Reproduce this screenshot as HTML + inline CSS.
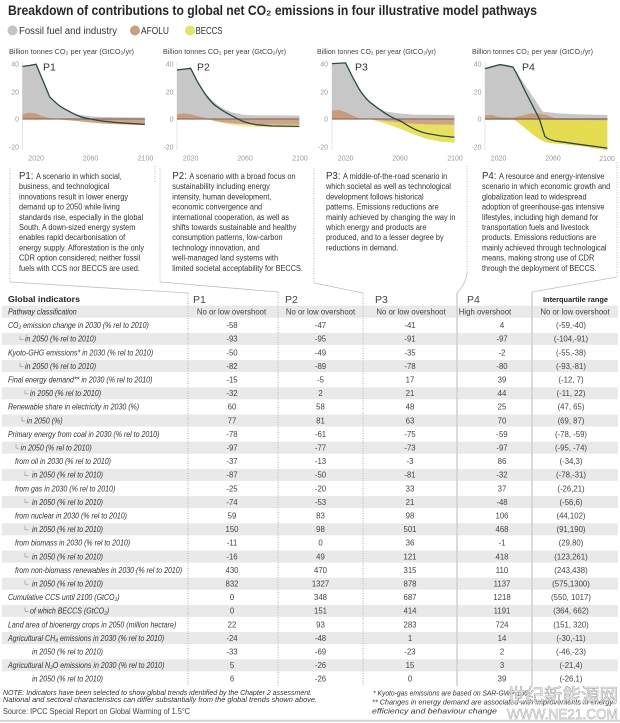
<!DOCTYPE html>
<html><head><meta charset="utf-8">
<style>
html,body{margin:0;padding:0;background:#fff;}
svg{display:block;font-family:"Liberation Sans","DejaVu Sans",sans-serif;}
</style></head><body>
<svg width="620" height="723" viewBox="0 0 620 723" xmlns="http://www.w3.org/2000/svg">
<rect width="620" height="723" fill="#fff"/>

<!-- Title -->
<text x="8" y="15" font-size="14" font-weight="bold" fill="#262626" textLength="529" lengthAdjust="spacingAndGlyphs">Breakdown of contributions to global net CO₂ emissions in four illustrative model pathways</text>

<!-- Legend -->
<circle cx="12.5" cy="30.5" r="5" fill="#c4c4c4"/>
<text x="19" y="34" font-size="10" fill="#333" textLength="98" lengthAdjust="spacingAndGlyphs">Fossil fuel and industry</text>
<circle cx="135" cy="30.5" r="5" fill="#cc9e80"/>
<text x="141" y="34" font-size="10" fill="#333" textLength="28" lengthAdjust="spacingAndGlyphs">AFOLU</text>
<circle cx="190" cy="30.5" r="5" fill="#e4e36e"/>
<text x="195.5" y="34" font-size="10" fill="#333" textLength="27" lengthAdjust="spacingAndGlyphs">BECCS</text>

<!-- Axis titles -->
<g font-size="7.5" fill="#444">
<text x="9" y="54" textLength="125" lengthAdjust="spacingAndGlyphs">Billion tonnes CO₂ per year (GtCO₂/yr)</text>
<text x="163" y="54" textLength="123" lengthAdjust="spacingAndGlyphs">Billion tonnes CO₂ per year (GtCO₂/yr)</text>
<text x="317" y="54" textLength="119" lengthAdjust="spacingAndGlyphs">Billion tonnes CO₂ per year (GtCO₂/yr)</text>
<text x="472" y="54" textLength="121" lengthAdjust="spacingAndGlyphs">Billion tonnes CO₂ per year (GtCO₂/yr)</text>
</g>

<!-- Left axis lines -->
<g stroke="#e0e0e0" stroke-width="0.8">
<line x1="22.5" y1="62" x2="22.5" y2="150"/>
<line x1="177" y1="62" x2="177" y2="150"/>
<line x1="332" y1="62" x2="332" y2="150"/>
<line x1="485" y1="62" x2="485" y2="150"/>
</g>

<!-- P1 chart -->
<g transform="translate(22.5,119) scale(1.36,-1.385)">
<path fill="#c7c7c7" d="M0,0 L0,38 L5,38.6 L10,39.5 L20,16 C24,12 27,9.3 30,7.8 C34,5.6 37,4.1 40,3.3 L50,1.9 L60,1.4 L90,1.1 L90,0 Z"/>
<path fill="#c99a7c" d="M0,0 L0,3.5 L5,4.5 L10,4 L15,2 L20,0.6 L30,0 Z"/>
<path fill="#cfa386" d="M20,0 L30,-0.5 L40,-1.5 L50,-2.5 L60,-3.3 L70,-3.8 L90,-4.3 L90,0 Z"/>
</g>
<line x1="22.5" y1="119" x2="144.9" y2="119" stroke="#8a7162" stroke-width="1.3"/>
<g transform="translate(22.5,119) scale(1.36,-1.385)">
<path fill="none" stroke="#2b4844" stroke-width="1.3" vector-effect="non-scaling-stroke" d="M0,38 L5,38.6 L10,39.5 L20,16 C24,12 27,9.3 30,7.8 C34,5.6 37,4 40,2.7 C44,1 47,0.2 50,0 C54,-0.8 57,-1.3 60,-1.6 L70,-2.6 L80,-3.3 L90,-3.9"/>
</g>

<!-- P2 chart -->
<g transform="translate(177,119) scale(1.36,-1.385)">
<path fill="#c7c7c7" d="M0,0 L0,35.4 L10,36.6 L15,27.5 L20,19.5 C24,15 28,11.5 30,10 C33,8 37,6 40,5 C44,4 47,3.2 50,3 L60,2.6 L90,2.5 L90,0 Z"/>
<path fill="#c99a7c" d="M0,0 L0,3.5 L5,4 L10,3.5 L15,2 L20,1 L25,0 Z"/>
<path fill="#eeea8a" opacity="0.85" d="M25,-0.8 L30,-2.3 L40,-4.3 L50,-5.5 L60,-6 L90,-6.2 L90,-4.2 L60,-4 L50,-3.8 L40,-3.2 L35,-2.6 L30,-1.8 Z"/>
<path fill="#cfa386" d="M20,0 L25,-0.8 L30,-1.8 L35,-2.6 L40,-3.2 L50,-3.8 L60,-4 L90,-4.2 L90,0 Z"/>
</g>
<line x1="177" y1="119" x2="299.4" y2="119" stroke="#8a7162" stroke-width="1.3"/>
<g transform="translate(177,119) scale(1.36,-1.385)">
<path fill="none" stroke="#2b4844" stroke-width="1.3" vector-effect="non-scaling-stroke" d="M0,35.4 L10,36.6 L15,27 L20,19 C24,13.5 27,10 30,8.5 C34,5.5 37,4 40,2.5 C43,1 46,-1 50,-2.2 C53,-3.2 56,-4 60,-4.3 L70,-5 L90,-5.3"/>
</g>

<!-- P3 chart -->
<g transform="translate(332,119) scale(1.36,-1.385)">
<path fill="#c7c7c7" d="M0,0 L0,40 L10,40.5 L15,30.5 L20,21.5 C24,16 27,13 30,11.3 C34,8 37,6.3 40,5.3 L50,4 L60,3.2 L90,2.9 L90,0 Z"/>
<path fill="#c99a7c" d="M0,0 L0,6 L5,6.5 L10,5 L15,2.5 L20,0.5 L25,0 Z"/>
<path fill="#e8e060" d="M30,-0.5 L40,-3.5 L50,-7 L60,-11 L70,-14.5 L80,-16.3 L90,-17.3 L90,-4.2 L70,-4 L60,-3.5 L50,-2.5 L40,-1.5 Z"/>
<path fill="#cfa386" d="M25,0 L30,-0.5 L40,-1.5 L50,-2.5 L60,-3.5 L70,-4 L90,-4.2 L90,0 Z"/>
</g>
<line x1="332" y1="119" x2="454.4" y2="119" stroke="#8a7162" stroke-width="1.3"/>
<g transform="translate(332,119) scale(1.36,-1.385)">
<path fill="none" stroke="#2b4844" stroke-width="1.3" vector-effect="non-scaling-stroke" d="M0,40 L10,40.5 L15,30.5 L20,21.5 C24,15.5 27,12.5 30,10.5 C34,7.5 37,5.5 40,3.5 C44,1.2 47,-0.4 50,-1.2 C53,-3 56,-5 60,-7 C63,-8.5 66,-9.6 70,-10.5 L80,-12.2 L90,-13.2"/>
</g>

<!-- P4 chart -->
<g transform="translate(485,119) scale(1.36,-1.385)">
<path fill="#c7c7c7" d="M0,0 L0,36.4 L11,39.3 L20.5,37.6 L42.5,5.3 L55,4 L70,3.3 L90,2.9 L90,0 Z"/>
<path fill="#c99a7c" d="M0,0 L0,2.5 L5,3 L10,1.5 L20,1 L28,2.5 L33,4 L40,4 L45,3 L50,1 L55,0 Z"/>
<path fill="#e6dc52" d="M20.5,0 L25,-3 L30,-7 L35,-11 L40,-14.5 L45,-17 L50,-17.5 L60,-18.5 L70,-19.5 L80,-21 L90,-22.5 L90,-1 L55,-0.8 L50,0 Z"/>
<path fill="#cfa386" d="M50,0 L55,-0.8 L90,-1 L90,0 Z"/>
</g>
<line x1="485" y1="119" x2="607.4" y2="119" stroke="#8a7162" stroke-width="1.6"/>
<g transform="translate(485,119) scale(1.36,-1.385)">
<path fill="none" stroke="#2b4844" stroke-width="1.3" vector-effect="non-scaling-stroke" d="M0,36.4 L11,39.3 L20.5,37.6 C24,32 27,25 30.4,18.4 L40,0 L44,-12.5 C46,-14.5 50,-15.8 55,-16.3 L67,-18 L90,-21"/>
</g>

<!-- Panel labels -->
<g font-size="10.5" fill="#333">
<text x="43" y="70.5">P1</text>
<text x="197" y="70.5">P2</text>
<text x="355" y="70.5">P3</text>
<text x="522" y="70.5">P4</text>
</g>

<!-- Tick labels -->
<g font-size="7" fill="#999" text-anchor="end">
<text x="19" y="66.5">40</text><text x="19" y="94.5">20</text><text x="19" y="121.5">0</text><text x="19" y="149.5">-20</text>
<text x="173.5" y="66.5">40</text><text x="173.5" y="94.5">20</text><text x="173.5" y="121.5">0</text><text x="173.5" y="149.5">-20</text>
<text x="328" y="66.5">40</text><text x="328" y="94.5">20</text><text x="328" y="121.5">0</text><text x="328" y="149.5">-20</text>
<text x="481.5" y="66.5">40</text><text x="481.5" y="94.5">20</text><text x="481.5" y="121.5">0</text><text x="481.5" y="149.5">-20</text>
</g>
<g font-size="7" fill="#999" text-anchor="middle">
<text x="36.1" y="160.5">2020</text><text x="90.5" y="160.5">2060</text><text x="145.5" y="160.5">2100</text>
<text x="190.6" y="160.5">2020</text><text x="245" y="160.5">2060</text><text x="300" y="160.5">2100</text>
<text x="345.6" y="160.5">2020</text><text x="400" y="160.5">2060</text><text x="455" y="160.5">2100</text>
<text x="498.6" y="160.5">2020</text><text x="553" y="160.5">2060</text><text x="607" y="161">2100</text>
</g>

<!-- Connector lines -->
<g fill="none" stroke="#aaa" stroke-width="0.8" stroke-dasharray="1,1.5">
<path d="M10,168 V282"/>
<path d="M160,168 V282"/>
<path d="M314,168 V283"/>
<path d="M467,166 V272"/>
<path d="M617,162 V277"/>
<path d="M155,166 V182"/>
<path d="M188,293 V686"/>
<path d="M278,292 V686"/>
<path d="M363,293 V686"/>
</g>
<g fill="none" stroke="#bdbdbd" stroke-width="0.8">
<path d="M10,282 L188,293"/>
<path d="M160,282 L278,292"/>
<path d="M314,283 L363,293"/>
<path d="M467,272 Q467,282 457,293"/>
<path d="M617,277 L532,292"/>
</g>

<!-- Scenario texts -->
<g transform="scale(0.92,1)" font-size="8" fill="#333">
<text x="20.65" y="179"><tspan font-size="10.5">P1:</tspan><tspan dx="1"> A scenario in which social,</tspan></text>
<text x="20.65" y="189.2">business, and technological</text>
<text x="20.65" y="199.4">innovations result in lower energy</text>
<text x="20.65" y="209.6">demand up to 2050 while living</text>
<text x="20.65" y="219.8">standards rise, especially in the global</text>
<text x="20.65" y="230">South. A down-sized energy system</text>
<text x="20.65" y="240.2">enables rapid decarbonisation of</text>
<text x="20.65" y="250.4">energy supply. Afforestation is the only</text>
<text x="20.65" y="260.6">CDR option considered; neither fossil</text>
<text x="20.65" y="270.8">fuels with CCS nor BECCS are used.</text>

<text x="187.3" y="179"><tspan font-size="10.5">P2:</tspan><tspan dx="1"> A scenario with a broad focus on</tspan></text>
<text x="187.3" y="189.2">sustainability including energy</text>
<text x="187.3" y="199.4">intensity, human development,</text>
<text x="187.3" y="209.6">economic convergence and</text>
<text x="187.3" y="219.8">international cooperation, as well as</text>
<text x="187.3" y="230">shifts towards sustainable and healthy</text>
<text x="187.3" y="240.2">consumption patterns, low-carbon</text>
<text x="187.3" y="250.4">technology innovation, and</text>
<text x="187.3" y="260.6">well-managed land systems with</text>
<text x="187.3" y="270.8">limited societal acceptability for BECCS.</text>

<text x="354.35" y="179"><tspan font-size="10.5">P3:</tspan><tspan dx="1"> A middle-of-the-road scenario in</tspan></text>
<text x="354.35" y="189.2">which societal as well as technological</text>
<text x="354.35" y="199.4">development follows historical</text>
<text x="354.35" y="209.6">patterns. Emissions reductions are</text>
<text x="354.35" y="219.8">mainly achieved by changing the way in</text>
<text x="354.35" y="230">which energy and products are</text>
<text x="354.35" y="240.2">produced, and to a lesser degree by</text>
<text x="354.35" y="250.4">reductions in demand.</text>

<text x="523.9" y="179"><tspan font-size="10.5">P4:</tspan><tspan dx="1"> A resource and energy-intensive</tspan></text>
<text x="523.9" y="189.2">scenario in which economic growth and</text>
<text x="523.9" y="199.4">globalization lead to widespread</text>
<text x="523.9" y="209.6">adoption of greenhouse-gas intensive</text>
<text x="523.9" y="219.8">lifestyles, including high demand for</text>
<text x="523.9" y="230">transportation fuels and livestock</text>
<text x="523.9" y="240.2">products. Emissions reductions are</text>
<text x="523.9" y="250.4">mainly achieved through technological</text>
<text x="523.9" y="260.6">means, making strong use of CDR</text>
<text x="523.9" y="270.8">through the deployment of BECCS.</text>
</g>

<!-- Table bands -->
<g fill="#e9e9e9">
<rect x="2" y="305.7" width="616" height="12"/>
<rect x="2" y="332.9" width="616" height="12"/>
<rect x="2" y="360.1" width="616" height="12"/>
<rect x="2" y="387.3" width="616" height="12"/>
<rect x="2" y="414.5" width="616" height="12"/>
<rect x="2" y="441.7" width="616" height="12"/>
<rect x="2" y="468.9" width="616" height="12"/>
<rect x="2" y="496.1" width="616" height="12"/>
<rect x="2" y="523.3" width="616" height="12"/>
<rect x="2" y="550.5" width="616" height="12"/>
<rect x="2" y="577.7" width="616" height="12"/>
<rect x="2" y="604.9" width="616" height="12"/>
<rect x="2" y="632.1" width="616" height="12"/>
<rect x="2" y="659.3" width="616" height="12"/>
</g>

<!-- Table dividers -->
<g fill="none" stroke="#a8a8a8" stroke-width="0.8" stroke-dasharray="1,1.5">
<path d="M188,293 V686"/>
<path d="M278,292 V686"/>
<path d="M363,293 V686"/>
</g>
<g stroke="#cfcfcf" stroke-width="1.5">
<line x1="457" y1="293" x2="457" y2="686"/>
<line x1="532" y1="292" x2="532" y2="686"/>
</g>

<!-- Table header -->
<text x="8" y="302" font-size="8.5" font-weight="bold" fill="#222" textLength="72" lengthAdjust="spacingAndGlyphs">Global indicators</text>
<g font-size="10.5" fill="#444">
<text x="193" y="303">P1</text>
<text x="285" y="303">P2</text>
<text x="375" y="303">P3</text>
<text x="467" y="303">P4</text>
</g>
<text x="543" y="302" font-size="7.5" font-weight="bold" fill="#222" textLength="65" lengthAdjust="spacingAndGlyphs">Interquartile range</text>

<!-- Sub-row glyphs -->
<g fill="none" stroke="#999" stroke-width="0.7">
<path d="M20,335.4 V339.4 H23.5"/>
<path d="M20,362.6 V366.6 H23.5"/>
<path d="M25,389.8 V393.8 H28.5"/>
<path d="M22,417 V421 H25.5"/>
<path d="M16,444.2 V448.2 H19.5"/>
<path d="M25,471.4 V475.4 H28.5"/>
<path d="M25,498.6 V502.6 H28.5"/>
<path d="M25,525.8 V529.8 H28.5"/>
<path d="M25,553 V557 H28.5"/>
<path d="M25,580.2 V584.2 H28.5"/>
<path d="M25,607.4 V611.4 H28.5"/>
</g>

<!-- Row labels -->
<g transform="scale(0.88,1)" font-size="8" font-style="italic" fill="#333">
<text x="9.09" y="314.5">Pathway classification</text>
<text x="9.09" y="328.1">CO₂ emission change in 2030 (% rel to 2010)</text>
<text x="28.41" y="341.7">in 2050 (% rel to 2010)</text>
<text x="9.09" y="355.3">Kyoto-GHG emissions* in 2030 (% rel to 2010)</text>
<text x="28.41" y="368.9">in 2050 (% rel to 2010)</text>
<text x="9.09" y="382.5">Final energy demand** in 2030 (% rel to 2010)</text>
<text x="34.09" y="396.1">in 2050 (% rel to 2010)</text>
<text x="9.09" y="409.7">Renewable share in electricity in 2030 (%)</text>
<text x="30.34" y="423.3">in 2050 (%)</text>
<text x="9.09" y="436.9">Primary energy from coal in 2030 (% rel to 2010)</text>
<text x="23.52" y="450.5">in 2050 (% rel to 2010)</text>
<text x="17.05" y="464.1">from oil in 2030  (% rel to 2010)</text>
<text x="36.36" y="477.7">in 2050  (% rel to 2010)</text>
<text x="17.05" y="491.3">from gas in 2030  (% rel to 2010)</text>
<text x="36.36" y="504.9">in 2050  (% rel to 2010)</text>
<text x="17.05" y="518.5">from nuclear in 2030  (% rel to 2010)</text>
<text x="36.36" y="532.1">in 2050  (% rel to 2010)</text>
<text x="17.05" y="545.7">from biomass in 2030  (% rel to 2010)</text>
<text x="36.36" y="559.3">in 2050  (% rel to 2010)</text>
<text x="17.05" y="572.9">from non-biomass renewables in 2030  (% rel to 2010)</text>
<text x="36.36" y="586.5">in 2050  (% rel to 2010)</text>
<text x="9.09" y="600.1">Cumulative CCS until 2100 (GtCO₂)</text>
<text x="34.09" y="613.7">of which BECCS (GtCO₂)</text>
<text x="9.09" y="627.3">Land area of bioenergy crops in 2050 (million hectare)</text>
<text x="9.09" y="640.9">Agricultural CH₄ emissions in 2030 (% rel to 2010)</text>
<text x="36.36" y="654.5">in 2050  (% rel to 2010)</text>
<text x="9.09" y="668.1">Agricultural N₂O emissions in 2030 (% rel to 2010)</text>
<text x="36.36" y="681.7">in 2050  (% rel to 2010)</text>
</g>

<!-- Values -->
<g font-size="7.8" fill="#444" text-anchor="middle">
<text><tspan x="231.5" y="314.5">No or low overshoot</tspan><tspan x="320.5" y="314.5">No or low overshoot</tspan><tspan x="411" y="314.5">No or low overshoot</tspan><tspan x="485" y="314.5">High overshoot</tspan><tspan x="575" y="314.5">No or low overshoot</tspan></text>
<text><tspan x="232" y="328.1">-58</tspan><tspan x="232" y="341.7">-93</tspan><tspan x="232" y="355.3">-50</tspan><tspan x="232" y="368.9">-82</tspan><tspan x="232" y="382.5">-15</tspan><tspan x="232" y="396.1">-32</tspan><tspan x="232" y="409.7">60</tspan><tspan x="232" y="423.3">77</tspan><tspan x="232" y="436.9">-78</tspan><tspan x="232" y="450.5">-97</tspan><tspan x="232" y="464.1">-37</tspan><tspan x="232" y="477.7">-87</tspan><tspan x="232" y="491.3">-25</tspan><tspan x="232" y="504.9">-74</tspan><tspan x="232" y="518.5">59</tspan><tspan x="232" y="532.1">150</tspan><tspan x="232" y="545.7">-11</tspan><tspan x="232" y="559.3">-16</tspan><tspan x="232" y="572.9">430</tspan><tspan x="232" y="586.5">832</tspan><tspan x="232" y="600.1">0</tspan><tspan x="232" y="613.7">0</tspan><tspan x="232" y="627.3">22</tspan><tspan x="232" y="640.9">-24</tspan><tspan x="232" y="654.5">-33</tspan><tspan x="232" y="668.1">5</tspan><tspan x="232" y="681.7">6</tspan></text>
<text><tspan x="320.5" y="328.1">-47</tspan><tspan x="320.5" y="341.7">-95</tspan><tspan x="320.5" y="355.3">-49</tspan><tspan x="320.5" y="368.9">-89</tspan><tspan x="320.5" y="382.5">-5</tspan><tspan x="320.5" y="396.1">2</tspan><tspan x="320.5" y="409.7">58</tspan><tspan x="320.5" y="423.3">81</tspan><tspan x="320.5" y="436.9">-61</tspan><tspan x="320.5" y="450.5">-77</tspan><tspan x="320.5" y="464.1">-13</tspan><tspan x="320.5" y="477.7">-50</tspan><tspan x="320.5" y="491.3">-20</tspan><tspan x="320.5" y="504.9">-53</tspan><tspan x="320.5" y="518.5">83</tspan><tspan x="320.5" y="532.1">98</tspan><tspan x="320.5" y="545.7">0</tspan><tspan x="320.5" y="559.3">49</tspan><tspan x="320.5" y="572.9">470</tspan><tspan x="320.5" y="586.5">1327</tspan><tspan x="320.5" y="600.1">348</tspan><tspan x="320.5" y="613.7">151</tspan><tspan x="320.5" y="627.3">93</tspan><tspan x="320.5" y="640.9">-48</tspan><tspan x="320.5" y="654.5">-69</tspan><tspan x="320.5" y="668.1">-26</tspan><tspan x="320.5" y="681.7">-26</tspan></text>
<text><tspan x="410" y="328.1">-41</tspan><tspan x="410" y="341.7">-91</tspan><tspan x="410" y="355.3">-35</tspan><tspan x="410" y="368.9">-78</tspan><tspan x="410" y="382.5">17</tspan><tspan x="410" y="396.1">21</tspan><tspan x="410" y="409.7">48</tspan><tspan x="410" y="423.3">63</tspan><tspan x="410" y="436.9">-75</tspan><tspan x="410" y="450.5">-73</tspan><tspan x="410" y="464.1">-3</tspan><tspan x="410" y="477.7">-81</tspan><tspan x="410" y="491.3">33</tspan><tspan x="410" y="504.9">21</tspan><tspan x="410" y="518.5">98</tspan><tspan x="410" y="532.1">501</tspan><tspan x="410" y="545.7">36</tspan><tspan x="410" y="559.3">121</tspan><tspan x="410" y="572.9">315</tspan><tspan x="410" y="586.5">878</tspan><tspan x="410" y="600.1">687</tspan><tspan x="410" y="613.7">414</tspan><tspan x="410" y="627.3">283</tspan><tspan x="410" y="640.9">1</tspan><tspan x="410" y="654.5">-23</tspan><tspan x="410" y="668.1">15</tspan><tspan x="410" y="681.7">0</tspan></text>
<text><tspan x="502" y="328.1">4</tspan><tspan x="502" y="341.7">-97</tspan><tspan x="502" y="355.3">-2</tspan><tspan x="502" y="368.9">-80</tspan><tspan x="502" y="382.5">39</tspan><tspan x="502" y="396.1">44</tspan><tspan x="502" y="409.7">25</tspan><tspan x="502" y="423.3">70</tspan><tspan x="502" y="436.9">-59</tspan><tspan x="502" y="450.5">-97</tspan><tspan x="502" y="464.1">86</tspan><tspan x="502" y="477.7">-32</tspan><tspan x="502" y="491.3">37</tspan><tspan x="502" y="504.9">-48</tspan><tspan x="502" y="518.5">106</tspan><tspan x="502" y="532.1">468</tspan><tspan x="502" y="545.7">-1</tspan><tspan x="502" y="559.3">418</tspan><tspan x="502" y="572.9">110</tspan><tspan x="502" y="586.5">1137</tspan><tspan x="502" y="600.1">1218</tspan><tspan x="502" y="613.7">1191</tspan><tspan x="502" y="627.3">724</tspan><tspan x="502" y="640.9">14</tspan><tspan x="502" y="654.5">2</tspan><tspan x="502" y="668.1">3</tspan><tspan x="502" y="681.7">39</tspan></text>
<text><tspan x="571" y="328.1">(-59,-40)</tspan><tspan x="571" y="341.7">(-104,-91)</tspan><tspan x="571" y="355.3">(-55,-38)</tspan><tspan x="571" y="368.9">(-93,-81)</tspan><tspan x="571" y="382.5">(-12, 7)</tspan><tspan x="571" y="396.1">(-11, 22)</tspan><tspan x="571" y="409.7">(47, 65)</tspan><tspan x="571" y="423.3">(69, 87)</tspan><tspan x="571" y="436.9">(-78, -59)</tspan><tspan x="571" y="450.5">(-95, -74)</tspan><tspan x="571" y="464.1">(-34,3)</tspan><tspan x="571" y="477.7">(-78,-31)</tspan><tspan x="571" y="491.3">(-26,21)</tspan><tspan x="571" y="504.9">(-56,6)</tspan><tspan x="571" y="518.5">(44,102)</tspan><tspan x="571" y="532.1">(91,190)</tspan><tspan x="571" y="545.7">(29,80)</tspan><tspan x="571" y="559.3">(123,261)</tspan><tspan x="571" y="572.9">(243,438)</tspan><tspan x="571" y="586.5">(575,1300)</tspan><tspan x="571" y="600.1">(550, 1017)</tspan><tspan x="571" y="613.7">(364, 662)</tspan><tspan x="571" y="627.3">(151, 320)</tspan><tspan x="571" y="640.9">(-30,-11)</tspan><tspan x="571" y="654.5">(-46,-23)</tspan><tspan x="571" y="668.1">(-21,4)</tspan><tspan x="571" y="681.7">(-26,1)</tspan></text>
</g>

<!-- Footnotes -->
<g font-size="7.5" font-style="italic" fill="#333">
<text x="3" y="695" textLength="309" lengthAdjust="spacingAndGlyphs">NOTE: Indicators have been selected to show global trends identified by the Chapter 2 assessment.</text>
<text x="3" y="702" textLength="314" lengthAdjust="spacingAndGlyphs">National and sectoral characteristics can differ substantially from the global trends shown above.</text>
<text x="373" y="695.5" textLength="155" lengthAdjust="spacingAndGlyphs">* Kyoto-gas emissions are based on SAR-GWP-100</text>
<text x="372" y="704.5" textLength="241" lengthAdjust="spacingAndGlyphs">** Changes in energy demand are associated with improvements in energy</text>
<text x="372" y="713.5" textLength="125" lengthAdjust="spacingAndGlyphs">efficiency and behaviour change</text>
</g>
<text x="3" y="714" font-size="8" fill="#444" textLength="187" lengthAdjust="spacingAndGlyphs">Source: IPCC Special Report on Global Warming of 1.5°C</text>

<!-- Watermark -->
<text x="507" y="702" font-family="'Liberation Sans','Noto Sans CJK SC',sans-serif" font-size="19" fill="#f3f3f3" fill-opacity="0.85" stroke="#a8a8a8" stroke-width="0.6" textLength="111" lengthAdjust="spacingAndGlyphs">世纪新能源网</text>
<text x="507" y="719" font-size="15" fill="#f3f3f3" fill-opacity="0.85" stroke="#a8a8a8" stroke-width="0.5" textLength="111" lengthAdjust="spacingAndGlyphs">WWW.NE21.COM</text>

<rect x="0" y="719.8" width="620" height="2" fill="#d2d2d2"/>
</svg>
</body></html>
